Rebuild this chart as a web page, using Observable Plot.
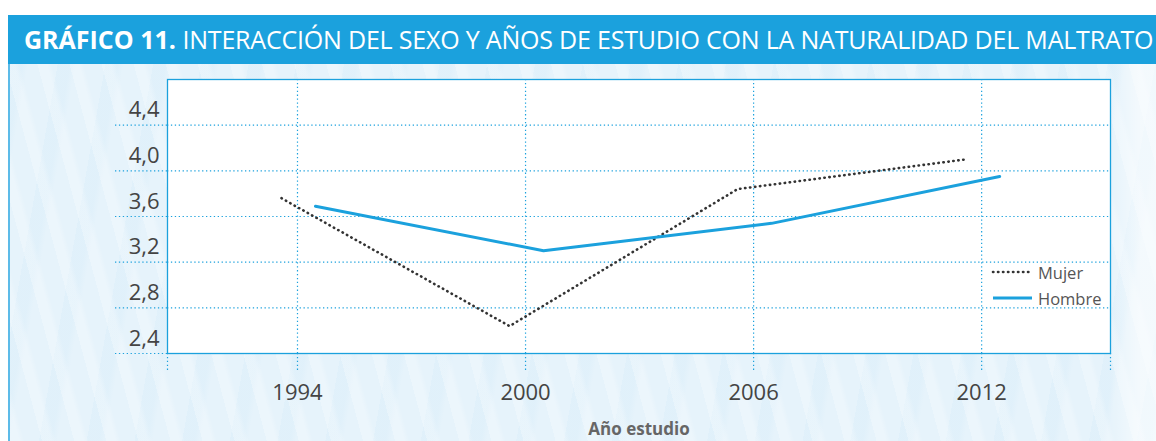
<!DOCTYPE html>
<html>
<head>
<meta charset="utf-8">
<script src="https://cdn.jsdelivr.net/npm/d3@7"></script>
<script src="https://cdn.jsdelivr.net/npm/@observablehq/plot@0.6"></script>
<style>
  html, body { margin: 0; padding: 0; background: #ffffff; width: 1156px; height: 441px; overflow: hidden; font-family: "Open Sans", sans-serif; }
  #card { position: absolute; left: 8px; top: 15px; width: 1148px; height: 426px; }
  #title { position: absolute; left: 0; top: 0; width: 1148px; height: 49px; background: #1ba1dd; color: #fff; font-size: 25px; line-height: 49px; white-space: nowrap; padding-left: 16px; box-sizing: border-box; overflow: hidden; }
  #title b { font-weight: 700; }
  #title span { letter-spacing: -0.2px; }
  #body { position: absolute; left: 0; top: 49px; width: 1148px; height: 377px; border-left: 2px solid #5dbbe8; box-sizing: border-box;
    background:
      linear-gradient(90deg, rgba(255,255,255,0) 0px, rgba(255,255,255,0) 1100px, rgba(255,255,255,0.55) 1130px),
      repeating-linear-gradient(75deg, rgba(255,255,255,0.25) 0px, rgba(255,255,255,0.25) 9px, rgba(255,255,255,0) 14px, rgba(255,255,255,0) 31px),
      repeating-linear-gradient(100deg, rgba(205,232,248,0.22) 0px, rgba(205,232,248,0.22) 12px, rgba(255,255,255,0) 18px, rgba(255,255,255,0) 47px),
      #e6f3fb; }
  #chart { position: absolute; left: 0; top: 49px; }
  #legend { position: absolute; left: 982px; top: 244px; font-size: 16.5px; color: #555; }
  .item { display: flex; align-items: center; height: 26px; }
  .item svg { margin-right: 4px; }
</style>
</head>
<body>
<div id="card">
  <div id="title"><b>GRÁFICO 11.</b> <span>INTERACCIÓN DEL SEXO Y AÑOS DE ESTUDIO CON LA NATURALIDAD DEL MALTRATO</span></div>
  <div id="body"></div>
  <div id="chart"></div>
  <div id="legend"></div>
</div>
<script>
const years = [1994, 2000, 2006, 2012];
const mujer = [3.76, 2.64, 3.84, 4.10];
const hombre = [3.69, 3.30, 3.54, 3.95];
const yTicks = [2.4, 2.8, 3.2, 3.6, 4.0, 4.4];
const seriesNames = ["Mujer", "Hombre"];
const xLabel = "Año estudio";

const blue = "#1ba1dd";
const dark = "#333333";
const xDomain = [1990.58, 2015.39];
const dots = "1.3,2.6";
const mujerDash = "0.4,4.6";

const chart = Plot.plot({
  width: 1148,
  height: 377,
  marginLeft: 159,
  marginRight: 46,
  marginTop: 15,
  marginBottom: 88,
  style: { fontFamily: "Open Sans, sans-serif", background: "transparent", color: "#444", overflow: "visible" },
  x: { domain: xDomain, label: null },
  y: { domain: [2.4, 4.8], label: null },
  marks: [
    Plot.frame({ fill: "white", stroke: "none" }),
    Plot.gridY(yTicks.slice(1), { stroke: blue, strokeOpacity: 1, strokeWidth: 1.2, strokeDasharray: dots }),
    Plot.gridX(years, { stroke: blue, strokeOpacity: 1, strokeWidth: 1.2, strokeDasharray: dots }),
    Plot.axisY(yTicks, { tickSize: 53, text: null, label: null, stroke: blue, strokeWidth: 1.2, strokeDasharray: dots }),
    Plot.axisY(yTicks, { tickSize: 0, tickPadding: 8, dy: -15, fontSize: 22, fill: "#444", label: null,
      tickFormat: d => d.toFixed(1).replace(".", ",") }),
    Plot.axisX(years, { tickSize: 19, tickPadding: 12, fontSize: 22, fill: "#444", label: null,
      stroke: blue, strokeWidth: 1.2, strokeDasharray: dots, tickFormat: d => String(d) }),
    Plot.axisX(xDomain, { tickSize: 19, text: null, label: null, stroke: blue, strokeWidth: 1.2, strokeDasharray: dots }),
    Plot.frame({ stroke: blue, strokeWidth: 1.3 }),
    Plot.line(years, { x: years, y: mujer, dx: -16, stroke: dark, strokeWidth: 2.6,
      strokeDasharray: mujerDash, strokeLinecap: "round" }),
    Plot.line(years, { x: years, y: hombre, dx: 18, stroke: blue, strokeWidth: 3 }),
    Plot.text([xLabel], { frameAnchor: "bottom", dy: 81, lineAnchor: "bottom", fontSize: 17,
      fontWeight: "bold", fill: "#666" })
  ]
});
document.getElementById("chart").appendChild(chart);

const legend = document.getElementById("legend");
const styles = [
  { stroke: dark, width: 2.6, dash: mujerDash, cap: "round" },
  { stroke: blue, width: 3, dash: null, cap: "butt" }
];
seriesNames.forEach((name, i) => {
  const s = styles[i];
  const div = document.createElement("div");
  div.className = "item";
  div.innerHTML = `<svg width="44" height="10"><line x1="3" y1="5" x2="42" y2="5" stroke="${s.stroke}" stroke-width="${s.width}" ${s.dash ? `stroke-dasharray="${s.dash}"` : ""} stroke-linecap="${s.cap}"/></svg><span>${name}</span>`;
  legend.appendChild(div);
});
</script>
</body>
</html>
